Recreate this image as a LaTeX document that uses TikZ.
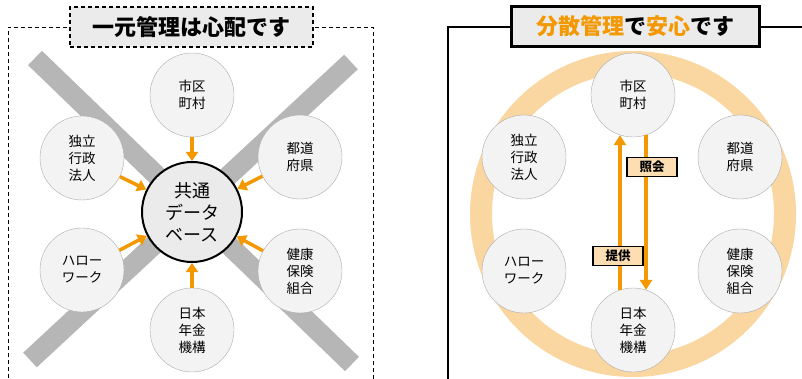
\documentclass[tikz,border=0pt]{standalone}
\usepackage{fontspec}
\setmainfont{Noto Sans CJK JP}
\usetikzlibrary{arrows.meta}
\definecolor{orangeFleche}{RGB}{243,152,0}
\definecolor{orangeAnneau}{RGB}{250,214,160}
\definecolor{orangeEtiq}{RGB}{252,222,178}
\definecolor{grisBande}{RGB}{182,182,182}
\definecolor{grisFond}{RGB}{235,235,235}
\definecolor{grisCercle}{RGB}{243,243,243}
\newcommand*{\diamSat}{84pt}
\newcommand*{\diamBase}{100pt}
\newcommand*{\largeurBande}{20pt}
\tikzset{
	sat/.style={circle,draw=gray!65,fill=grisCercle,minimum size=\diamSat,inner sep=0pt,
		align=center,font=\fontsize{13.5}{17}\selectfont},
	base/.style={circle,draw=black,line width=2pt,fill=grisFond,minimum size=\diamBase,
		inner sep=0pt,align=center,font=\fontsize{18}{22}\selectfont},
	bande/.style={grisBande,line width=\largeurBande},
	fleche/.style={orangeFleche,line width=3.5pt,-{Triangle[length=9pt,width=12pt]}},
	longue/.style={orangeFleche,line width=4pt,-{Triangle[length=10pt,width=12pt]}},
	etiquette/.style={draw=black,line width=1.5pt,fill=orangeEtiq,minimum width=50pt,
		minimum height=19pt,inner sep=0pt,font=\bfseries\fontsize{12.5}{14}\selectfont},
	titre/.style={fill=grisFond,minimum height=40pt,inner sep=0pt,
		font=\bfseries\fontsize{22}{26}\selectfont}
}
\begin{document}
\begin{tikzpicture}[x=1pt,y=-1pt]
	\useasboundingbox (0,0) rectangle (802,379);
	% gauche : un seul centre
	\draw[bande] (35,58) -- (352,364);
	\draw[bande] (30,360) -- (351,62);
	\draw[dash pattern=on 4pt off 3pt,line width=0.8pt] (8,385) -- (8,27) -- (373,27) -- (373,385);
	\node[titre,draw,dash pattern=on 4pt off 3pt,line width=1.2pt,minimum width=243pt]
		(titreG) at (191.5,27) {一元管理は心配です};
	
	\node[base] (db) at (192,212) {共通\\データ\\ベース};
	\node[sat] (shi) at (192,95) {市区\\町村};
	\node[sat] (dok) at (82,158) {独立\\行政\\法人};
	\node[sat] (tod) at (300,157) {都道\\府県};
	\node[sat] (har) at (82,270) {ハロー\\ワーク};
	\node[sat] (ken) at (300,271) {健康\\保険\\組合};
	\node[sat] (nen) at (192,330) {日本\\年金\\機構};
	\foreach \s in {shi,dok,tod,har,ken,nen}
		\draw[fleche] (\s) -- (db);
	
	% droite : gestion repartie
	\draw[orangeAnneau,line width=22pt] (633,214) circle (152);
	\draw[line width=2.2pt] (448,385) -- (448,27) -- (810,27);
	\node[titre,draw,line width=2.2pt,minimum width=248pt] (titreD) at (635.5,26.5)
		{\textcolor{orangeFleche}{分散管理}で\textcolor{orangeFleche}{安心}です};
	
	\node[sat] (shiR) at (633,95) {市区\\町村};
	\node[sat] (dokR) at (524,157) {独立\\行政\\法人};
	\node[sat] (todR) at (740,157) {都道\\府県};
	\node[sat] (harR) at (524,271) {ハロー\\ワーク};
	\node[sat] (kenR) at (740,271) {健康\\保険\\組合};
	\node[sat] (nenR) at (633,330) {日本\\年金\\機構};
	\draw[longue] (nenR.108) -- (shiR.252);
	\draw[longue] (shiR.288) -- (nenR.72);
	\node[etiquette] (shokai) at (652,167) {照会};
	\node[etiquette] (teikyo) at (618,256) {提供};
\end{tikzpicture}
\end{document}
